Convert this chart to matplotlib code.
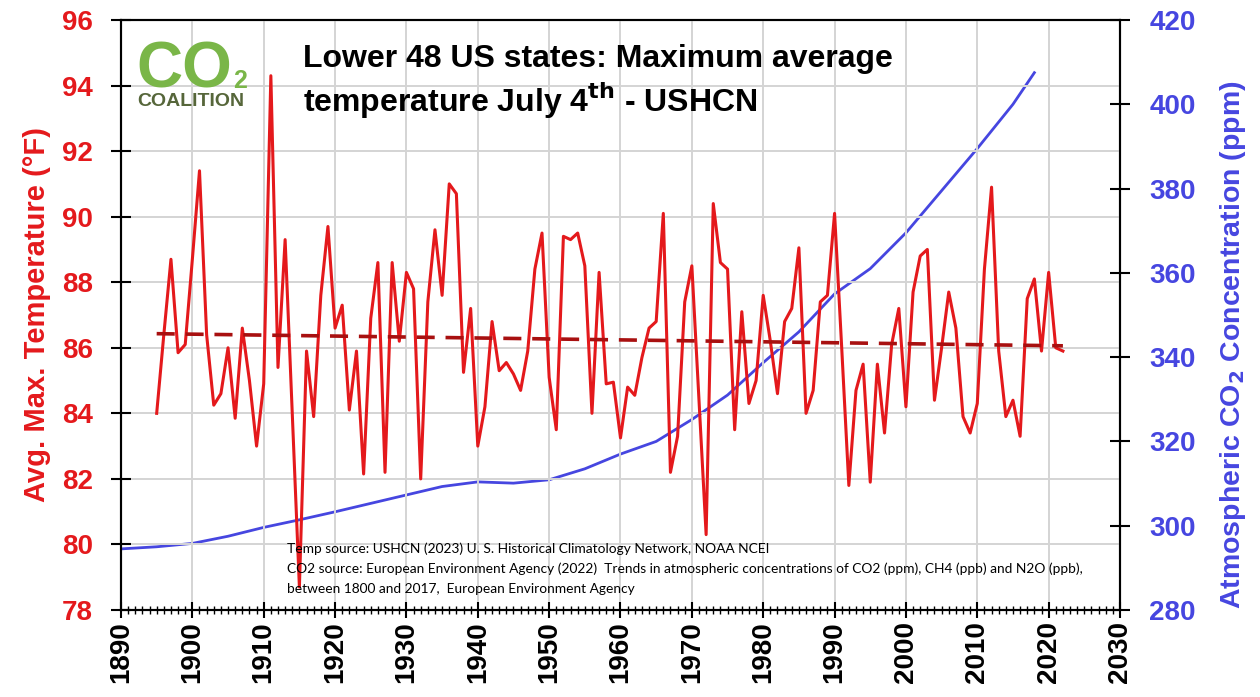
import numpy as np
import matplotlib
matplotlib.use("Agg")
import matplotlib.pyplot as plt
from matplotlib.ticker import MultipleLocator

# July 4th max average temperature, lower 48 states (USHCN), deg F
temp_years = list(range(1895, 2023))
temp_values = [
    84.0, 86.4, 88.7, 85.85, 86.1, 88.7, 91.4, 86.4, 84.25, 84.6,   # 1895-1904
    86.0, 83.85, 86.6, 85.0, 83.0, 84.9, 94.3, 85.4, 89.3, 84.0,    # 1905-1914
    78.7, 85.9, 83.9, 87.6, 89.7, 86.6, 87.3, 84.1, 85.9, 82.15,    # 1915-1924
    86.9, 88.6, 82.2, 88.6, 86.2, 88.3, 87.8, 82.0, 87.4, 89.6,     # 1925-1934
    87.6, 91.0, 90.7, 85.25, 87.2, 83.0, 84.2, 86.8, 85.3, 85.55,   # 1935-1944
    85.2, 84.7, 85.9, 88.4, 89.5, 85.1, 83.5, 89.4, 89.3, 89.5,     # 1945-1954
    88.5, 84.0, 88.3, 84.9, 84.95, 83.25, 84.8, 84.55, 85.7, 86.6,  # 1955-1964
    86.8, 90.1, 82.2, 83.3, 87.4, 88.5, 84.4, 80.3, 90.4, 88.6,     # 1965-1974
    88.4, 83.5, 87.1, 84.3, 85.0, 87.6, 86.2, 84.6, 86.8, 87.2,     # 1975-1984
    89.05, 84.0, 84.7, 87.4, 87.6, 90.1, 86.0, 81.8, 84.7, 85.5,    # 1985-1994
    81.9, 85.5, 83.4, 86.1, 87.2, 84.2, 87.7, 88.8, 89.0, 84.4,     # 1995-2004
    86.0, 87.7, 86.6, 83.9, 83.4, 84.3, 88.4, 90.9, 85.9, 83.9,     # 2005-2014
    84.4, 83.3, 87.5, 88.1, 85.9, 88.3, 86.0, 85.9,                 # 2015-2022
]

# linear trend of the temperature series
trend_years = [1895, 2022]
trend_values = [86.43, 86.06]

# atmospheric CO2 (ppm)
co2_years = [1890, 1895, 1900, 1905, 1910, 1915, 1920, 1925, 1930, 1935,
             1940, 1945, 1950, 1955, 1960, 1965, 1970, 1975, 1980, 1985,
             1990, 1995, 2000, 2005, 2010, 2015, 2018]
co2_values = [294.5, 295.0, 295.8, 297.5, 299.6, 301.4, 303.3, 305.3, 307.3, 309.3,
              310.4, 310.1, 310.9, 313.5, 317.0, 320.0, 325.2, 331.0, 338.7, 346.0,
              355.0, 361.0, 369.5, 379.5, 389.5, 400.0, 407.5]

sources = [
    "Temp source: USHCN (2023) U. S. Historical Climatology Network, NOAA NCEI",
    "CO2 source: European Environment Agency (2022)  Trends in atmospheric concentrations of CO2 (ppm), CH4 (ppb) and N2O (ppb),",
    "between 1800 and 2017,  European Environment Agency",
]

red = "#e4191c"
blue = "#4646e0"

plt.rcParams["font.family"] = ["Liberation Sans", "DejaVu Sans"]
plt.rcParams["font.weight"] = "bold"

fig = plt.figure(figsize=(12.6, 6.97), dpi=100)
ax = fig.add_axes([121 / 1260, 1 - 610 / 697, 999 / 1260, 590 / 697])
ax2 = ax.twinx()

# temperature on top of the CO2 curve
ax.set_zorder(ax2.get_zorder() + 1)
ax.patch.set_visible(False)

ax.plot(temp_years, temp_values, color=red, linewidth=2.2, zorder=3)
ax.plot(trend_years, trend_values, color="#a81010", linewidth=2.6,
        linestyle=(0, (5, 3)), zorder=4)
ax2.plot(co2_years, co2_values, color=blue, linewidth=2.0)

ax.set_xlim(1890, 2030)
ax.set_ylim(78, 96)
ax2.set_ylim(280, 420)

ax.xaxis.set_major_locator(MultipleLocator(10))
ax.xaxis.set_minor_locator(MultipleLocator(1))
ax.yaxis.set_major_locator(MultipleLocator(2))
ax2.yaxis.set_major_locator(MultipleLocator(20))

ax.grid(True, which="major", color="#d4d4d4", linewidth=1.4)
ax.set_axisbelow(True)

ax.tick_params(axis="x", which="major", direction="inout", length=12, width=1.5,
               labelsize=20, labelrotation=90, pad=2)
ax.tick_params(axis="x", which="minor", direction="inout", length=6, width=1)
ax.tick_params(axis="y", direction="inout", length=14, width=1.5,
               labelsize=20, labelcolor=red, pad=13)
ax2.tick_params(axis="y", direction="inout", length=14, width=1.5,
                labelsize=20, labelcolor=blue, pad=14)

for lab in ax.get_xticklabels() + ax.get_yticklabels() + ax2.get_yticklabels():
    lab.set_fontweight("bold")

for sp in ax.spines.values():
    sp.set_linewidth(1.5)
for sp in ax2.spines.values():
    sp.set_linewidth(1.5)

ax.set_ylabel("Avg. Max. Temperature (°F)", color=red, fontsize=21,
              fontweight="bold", labelpad=8)
ax2.set_ylabel("Atmospheric CO$_2$ Concentration (ppm)", color=blue, fontsize=20.5,
               fontweight="bold", labelpad=16)
# the right label sits a bit below the middle in the original
ax2.yaxis.label.set_y(0.45)

# title inside the plot
fig.text(303 / 1260, 1 - 44 / 697,
         "Lower 48 US states: Maximum average\ntemperature July 4$^{\\mathbf{th}}$ - USHCN",
         fontsize=23, fontweight="bold", va="top", ha="left", linespacing=1.2)

# CO2 Coalition logo, as text
fig.text(136 / 1260, 1 - 88 / 697, "CO", fontsize=46, fontweight="bold",
         color="#7ab648", va="baseline", ha="left")
fig.text(233 / 1260, 1 - 88 / 697, "2", fontsize=18, fontweight="bold",
         color="#7ab648", va="baseline", ha="left")
fig.text(137 / 1260, 1 - 106 / 697, "COALITION", fontsize=14, fontweight="bold",
         color="#56663a", va="baseline", ha="left")

# data sources
for i, s in enumerate(sources):
    fig.text(287 / 1260, 1 - (553 + i * 20) / 697, s, fontsize=9.9,
             fontweight="normal", family=["Lato", "DejaVu Sans"],
             va="baseline", ha="left")

fig.savefig("out.png", dpi=100)
